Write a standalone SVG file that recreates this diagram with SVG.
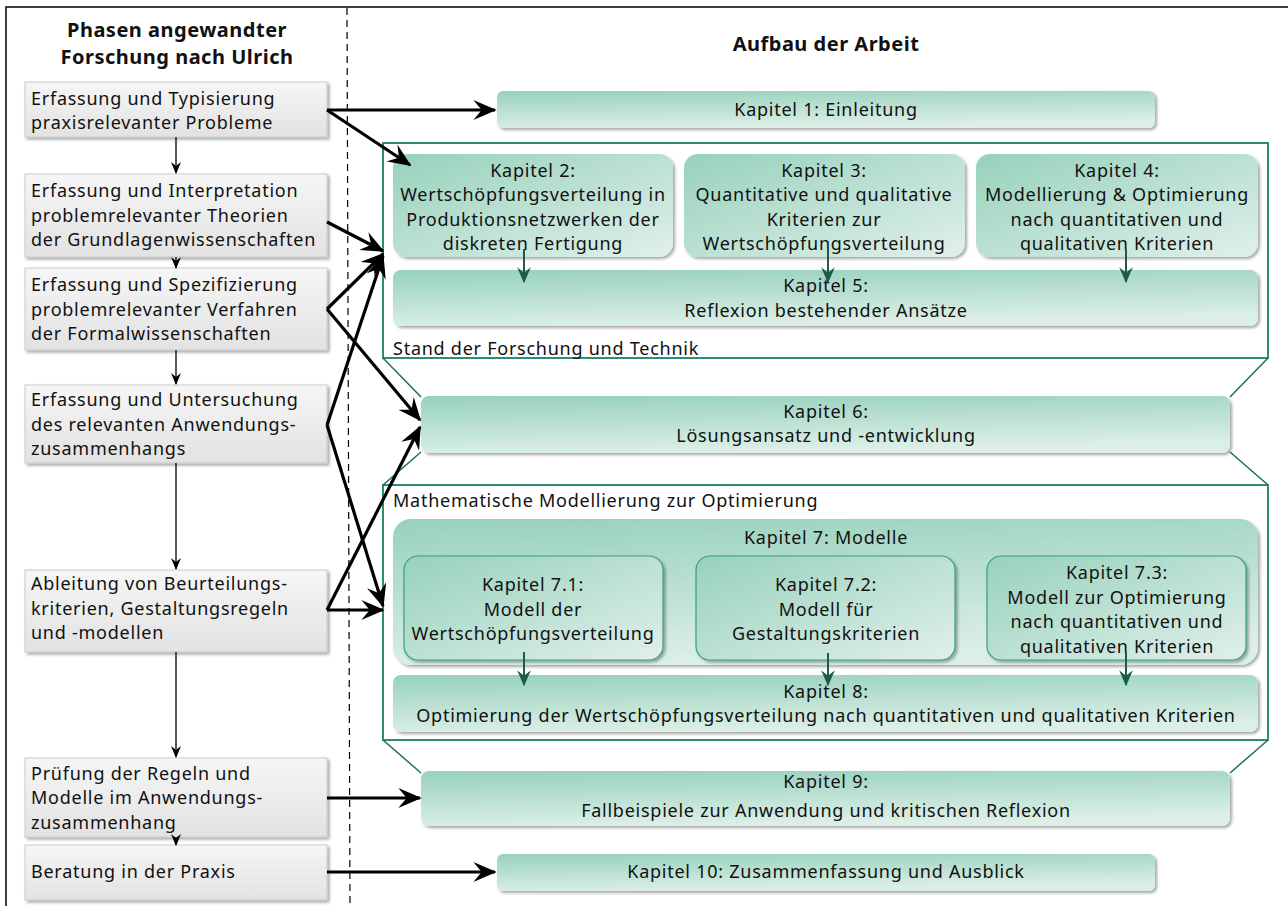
<svg xmlns="http://www.w3.org/2000/svg" width="1288" height="906" viewBox="0 0 1288 906">
  <defs>
    <linearGradient id="gGreen" x1="0" y1="0" x2="1" y2="1">
      <stop offset="0" stop-color="#97d1bc"/>
      <stop offset="1" stop-color="#e0f0ea"/>
    </linearGradient>
    <linearGradient id="gGreenWide" x1="0" y1="0" x2="0.25" y2="1">
      <stop offset="0" stop-color="#97d1bc"/>
      <stop offset="1" stop-color="#dcefe7"/>
    </linearGradient>
    <linearGradient id="gGray" x1="0" y1="0" x2="0" y2="1">
      <stop offset="0" stop-color="#f6f6f6"/>
      <stop offset="1" stop-color="#e2e2e2"/>
    </linearGradient>
    <filter id="shadow" x="-5%" y="-10%" width="112%" height="130%">
      <feDropShadow dx="2" dy="2" stdDeviation="1.5" flood-color="#000" flood-opacity="0.35"/>
    </filter>
    <marker id="ahBlack" viewBox="0 0 12 10" refX="11" refY="5" markerWidth="12" markerHeight="10" markerUnits="userSpaceOnUse" orient="auto">
      <path d="M0,0 L12,5 L0,10 L4,5 Z" fill="#000"/>
    </marker>
    <marker id="ahBig" viewBox="0 0 14 12" refX="13" refY="6" markerWidth="24" markerHeight="20" markerUnits="userSpaceOnUse" orient="auto">
      <path d="M0,0 L14,6 L0,12 L5,6 Z" fill="#000"/>
    </marker>
    <marker id="ahGreen" viewBox="0 0 14 12" refX="13" refY="6" markerWidth="16" markerHeight="14" markerUnits="userSpaceOnUse" orient="auto">
      <path d="M0,0 L14,6 L0,12 L5,6 Z" fill="#1d5c4c"/>
    </marker>
    <style>
      text { font-family: "Noto Sans", "Open Sans", sans-serif; font-size: 18px; letter-spacing: 0.75px; fill: #111; }
      .hd { font-weight: bold; font-size: 20px; letter-spacing: 0.5px; }
      .c { text-anchor: middle; }
      .gray { fill: url(#gGray); stroke: #c9c9c9; stroke-width: 1; filter: url(#shadow); }
      .green { fill: url(#gGreen); filter: url(#shadow); }
      .greenW { fill: url(#gGreenWide); filter: url(#shadow); }
      .inner { fill: url(#gGreen); stroke: #3a9d85; stroke-width: 1.2; filter: url(#shadow); }
      .frame { fill: #fff; stroke: #2e8b76; stroke-width: 2; }
      .link { fill: none; stroke: #1f6e5d; stroke-width: 1.5; }
      .thin { fill: none; stroke: #000; stroke-width: 1.3; marker-end: url(#ahBlack); }
      .thick { fill: none; stroke: #000; stroke-width: 3.2; marker-end: url(#ahBig); }
      .gArrow { fill: none; stroke: #1d5c4c; stroke-width: 2; marker-end: url(#ahGreen); }
    </style>
  </defs>

  <rect width="1288" height="906" fill="#fff"/>
  <!-- outer border and column divider -->
  <path d="M6,906 V7 H1288" fill="none" stroke="#000" stroke-width="1.5"/>
  <line x1="347" y1="8" x2="350" y2="906" stroke="#000" stroke-width="1.2" stroke-dasharray="7,5"/>

  <!-- headings -->
  <g id="heading-left">
    <text class="hd c" x="177" y="36.5">Phasen angewandter</text>
    <text class="hd c" x="177" y="64">Forschung nach Ulrich</text>
  </g>
  <g id="heading-right">
    <text class="hd c" x="826" y="51">Aufbau der Arbeit</text>
  </g>

  <!-- frames with trapezoid links -->
  <g id="frame-stand">
    <rect class="frame" x="383" y="143" width="885" height="215"/>
    <text x="393" y="355">Stand der Forschung und Technik</text>
  </g>
  <g id="frame-modell">
    <rect class="frame" x="383" y="485" width="885" height="255"/>
    <text x="393" y="507">Mathematische Modellierung zur Optimierung</text>
  </g>
  <g id="frame-links">
    <path class="link" d="M383,358 L421,397 M1268,358 L1230,397 M421,452 L383,485 M1230,452 L1268,485 M383,740 L421,773 M1268,740 L1230,773"/>
  </g>

  <!-- left column: phases -->
  <g id="p1"><rect class="gray" x="25" y="82" width="302" height="55"/>
    <text x="31" y="104.5">Erfassung und Typisierung</text>
    <text x="31" y="129">praxisrelevanter Probleme</text></g>
  <g id="p2"><rect class="gray" x="25" y="174" width="302" height="83"/>
    <text x="31" y="197">Erfassung und Interpretation</text>
    <text x="31" y="221.5">problemrelevanter Theorien</text>
    <text x="31" y="246">der Grundlagenwissenschaften</text></g>
  <g id="p3"><rect class="gray" x="25" y="268" width="302" height="82"/>
    <text x="31" y="291">Erfassung und Spezifizierung</text>
    <text x="31" y="315.5">problemrelevanter Verfahren</text>
    <text x="31" y="340">der Formalwissenschaften</text></g>
  <g id="p4"><rect class="gray" x="25" y="385" width="302" height="78"/>
    <text x="31" y="406">Erfassung und Untersuchung</text>
    <text x="31" y="430.5">des relevanten Anwendungs-</text>
    <text x="31" y="455">zusammenhangs</text></g>
  <g id="p5"><rect class="gray" x="25" y="570" width="302" height="82"/>
    <text x="31" y="590">Ableitung von Beurteilungs-</text>
    <text x="31" y="614.5">kriterien, Gestaltungsregeln</text>
    <text x="31" y="639">und -modellen</text></g>
  <g id="p6"><rect class="gray" x="25" y="758" width="302" height="79"/>
    <text x="31" y="779.5">Prüfung der Regeln und</text>
    <text x="31" y="804">Modelle im Anwendungs-</text>
    <text x="31" y="828.5">zusammenhang</text></g>
  <g id="p7"><rect class="gray" x="25" y="845" width="302" height="55"/>
    <text x="31" y="878">Beratung in der Praxis</text></g>

  <!-- right column: chapters -->
  <g id="k1"><rect class="greenW" x="497" y="91" width="658" height="37" rx="6"/>
    <text class="c" x="826" y="116">Kapitel 1: Einleitung</text></g>
  <g id="k2"><rect class="green" x="393" y="154" width="280" height="103" rx="14"/>
    <text class="c" x="533" y="176.5">Kapitel 2:</text>
    <text class="c" x="533" y="201">Wertschöpfungsverteilung in</text>
    <text class="c" x="533" y="225.5">Produktionsnetzwerken der</text>
    <text class="c" x="533" y="250">diskreten Fertigung</text></g>
  <g id="k3"><rect class="green" x="684" y="154" width="281" height="103" rx="14"/>
    <text class="c" x="824" y="176.5">Kapitel 3:</text>
    <text class="c" x="824" y="201">Quantitative und qualitative</text>
    <text class="c" x="824" y="225.5">Kriterien zur</text>
    <text class="c" x="824" y="250">Wertschöpfungsverteilung</text></g>
  <g id="k4"><rect class="green" x="976" y="154" width="282" height="103" rx="14"/>
    <text class="c" x="1117" y="176.5">Kapitel 4:</text>
    <text class="c" x="1117" y="201">Modellierung &amp; Optimierung</text>
    <text class="c" x="1117" y="225.5">nach quantitativen und</text>
    <text class="c" x="1117" y="250">qualitativen Kriterien</text></g>
  <g id="k5"><rect class="greenW" x="393" y="270" width="865" height="56" rx="8"/>
    <text class="c" x="826" y="292">Kapitel 5:</text>
    <text class="c" x="826" y="316.5">Reflexion bestehender Ansätze</text></g>
  <g id="k6"><rect class="greenW" x="421" y="396" width="809" height="57" rx="8"/>
    <text class="c" x="826" y="417.5">Kapitel 6:</text>
    <text class="c" x="826" y="442">Lösungsansatz und -entwicklung</text></g>
  <g id="k7"><rect class="greenW" x="393" y="519" width="865" height="146" rx="18"/>
    <text class="c" x="826" y="544">Kapitel 7: Modelle</text></g>
  <g id="k71"><rect class="inner" x="404" y="556" width="259" height="104" rx="14"/>
    <text class="c" x="533" y="591">Kapitel 7.1:</text>
    <text class="c" x="533" y="615.5">Modell der</text>
    <text class="c" x="533" y="640">Wertschöpfungsverteilung</text></g>
  <g id="k72"><rect class="inner" x="696" y="556" width="259" height="104" rx="14"/>
    <text class="c" x="826" y="591">Kapitel 7.2:</text>
    <text class="c" x="826" y="615.5">Modell für</text>
    <text class="c" x="826" y="640">Gestaltungskriterien</text></g>
  <g id="k73"><rect class="inner" x="987" y="556" width="259" height="104" rx="14"/>
    <text class="c" x="1117" y="579">Kapitel 7.3:</text>
    <text class="c" x="1117" y="603.5">Modell zur Optimierung</text>
    <text class="c" x="1117" y="628">nach quantitativen und</text>
    <text class="c" x="1117" y="652.5">qualitativen Kriterien</text></g>
  <g id="k8"><rect class="greenW" x="393" y="675" width="865" height="57" rx="8"/>
    <text class="c" x="826" y="697.5">Kapitel 8:</text>
    <text class="c" x="826" y="722">Optimierung der Wertschöpfungsverteilung nach quantitativen und qualitativen Kriterien</text></g>
  <g id="k9"><rect class="greenW" x="421" y="771" width="809" height="55" rx="8"/>
    <text class="c" x="826" y="788">Kapitel 9:</text>
    <text class="c" x="826" y="817">Fallbeispiele zur Anwendung und kritischen Reflexion</text></g>
  <g id="k10"><rect class="greenW" x="497" y="854" width="658" height="37" rx="6"/>
    <text class="c" x="826" y="878">Kapitel 10: Zusammenfassung und Ausblick</text></g>

  <!-- connectors -->
  <g id="connectors">
    <!-- sequence of phases -->
    <line class="thin" x1="176" y1="137" x2="176" y2="173"/>
    <line class="thin" x1="176" y1="257" x2="176" y2="268"/>
    <line class="thin" x1="176" y1="350" x2="176" y2="384"/>
    <line class="thin" x1="176" y1="463" x2="176" y2="569"/>
    <line class="thin" x1="176" y1="652" x2="176" y2="757"/>
    <line class="thin" x1="176" y1="837" x2="176" y2="845"/>
    <!-- phases to chapters -->
    <line class="thick" x1="327" y1="110" x2="495" y2="110"/>
    <line class="thick" x1="327" y1="110" x2="410" y2="165"/>
    <line class="thick" x1="327" y1="222" x2="383" y2="251"/>
    <line class="thick" x1="327" y1="309" x2="383" y2="254"/>
    <line class="thick" x1="327" y1="309" x2="420" y2="420"/>
    <line class="thick" x1="327" y1="425" x2="383" y2="256"/>
    <line class="thick" x1="327" y1="425" x2="383" y2="606"/>
    <line class="thick" x1="327" y1="610" x2="420" y2="427"/>
    <line class="thick" x1="327" y1="610" x2="383" y2="610"/>
    <line class="thick" x1="327" y1="798" x2="420" y2="798"/>
    <line class="thick" x1="327" y1="872" x2="495" y2="872"/>
    <!-- chapter flow -->
    <line class="gArrow" x1="524" y1="249" x2="524" y2="282"/>
    <line class="gArrow" x1="828" y1="249" x2="828" y2="282"/>
    <line class="gArrow" x1="1126" y1="249" x2="1126" y2="282"/>
    <line class="gArrow" x1="524" y1="652" x2="524" y2="685"/>
    <line class="gArrow" x1="828" y1="653" x2="828" y2="685"/>
    <line class="gArrow" x1="1126" y1="652" x2="1126" y2="685"/>
  </g>
</svg>
